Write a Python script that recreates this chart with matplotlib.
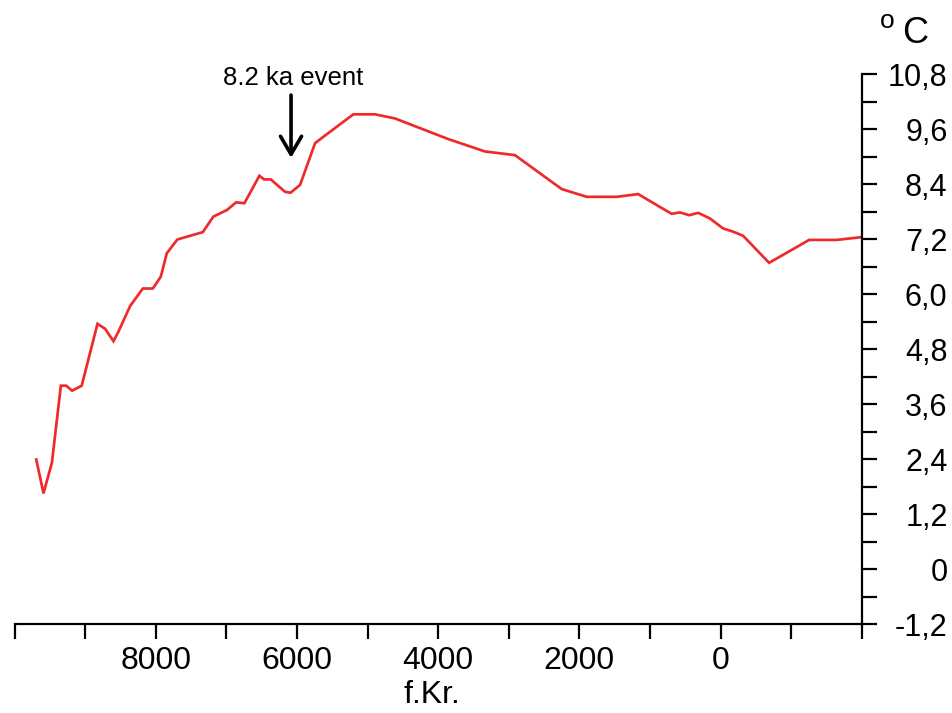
import matplotlib
matplotlib.use("Agg")
import matplotlib.pyplot as plt
from matplotlib.ticker import FixedLocator

plt.rcParams['font.family'] = ['Liberation Sans', 'DejaVu Sans']

# Years (positive = BC, negative = AD) and temperature (°C)
years = [9695, 9592, 9473, 9346, 9271, 9186, 9051, 8827, 8718, 8601, 8530,
         8364, 8184, 8043, 7930, 7845, 7695, 7335, 7185, 6995, 6863, 6746,
         6533, 6467, 6372, 6170, 6092, 5957, 5745, 5627, 5202, 4895, 4612,
         3857, 3338, 2913, 2251, 1897, 1473, 1167, 694, 576, 445, 317, 152,
         -37, -178, -320, -688, -1255, -1643, -1994]
temps = [2.39, 1.65, 2.32, 4.00, 4.00, 3.89, 4.00, 5.35, 5.24, 4.97, 5.18,
         5.74, 6.12, 6.12, 6.38, 6.89, 7.19, 7.35, 7.69, 7.83, 8.00, 7.98,
         8.58, 8.50, 8.50, 8.23, 8.21, 8.38, 9.29, 9.43, 9.92, 9.92, 9.83,
         9.38, 9.11, 9.03, 8.29, 8.12, 8.12, 8.18, 7.75, 7.78, 7.72, 7.77, 7.65,
         7.43, 7.36, 7.27, 6.68, 7.18, 7.18, 7.24]

x_ticks = [10000, 9000, 8000, 7000, 6000, 5000, 4000, 3000, 2000, 1000, 0, -1000, -2000]
x_labels = ['', '', '8000', '', '6000', '', '4000', '', '2000', '', '0', '', '']
y_ticks = [-1.2, -0.6, 0.0, 0.6, 1.2, 1.8, 2.4, 3.0, 3.6, 4.2, 4.8, 5.4, 6.0,
           6.6, 7.2, 7.8, 8.4, 9.0, 9.6, 10.2, 10.8]
y_labels = ['-1,2', '', '0', '', '1,2', '', '2,4', '', '3,6', '', '4,8', '',
            '6,0', '', '7,2', '', '8,4', '', '9,6', '', '10,8']

event_year = 6085
event_label = '8.2 ka event'

fig = plt.figure(figsize=(9.53, 7.13), dpi=100)
ax = fig.add_axes([0.01543, 0.12482, 0.88877, 0.77139])

ax.plot(years, temps, color='#EE2A2A', lw=1.95, solid_joinstyle='miter')

ax.set_xlim(10000, -2000)
ax.set_ylim(-1.2, 10.8)

for s in ['top', 'left']:
    ax.spines[s].set_visible(False)
for s in ['bottom', 'right']:
    ax.spines[s].set_linewidth(1.6)
    ax.spines[s].set_color('black')

ax.xaxis.set_major_locator(FixedLocator(x_ticks))
ax.set_xticklabels(x_labels)
ax.tick_params(axis='x', direction='out', length=10.5, width=1.6,
               labelsize=23, pad=5)

ax.yaxis.tick_right()
ax.yaxis.set_major_locator(FixedLocator(y_ticks))
ax.set_yticklabels(y_labels)
ax.tick_params(axis='y', direction='out', length=10.8, width=1.6,
               labelsize=22, pad=51)
for lab in ax.get_yticklabels():
    lab.set_horizontalalignment('right')

ax.set_xlabel('f.Kr.', fontsize=23, labelpad=3)
ax.xaxis.label.set_x(0.493)

# 8.2 ka event annotation
ax.annotate('', xy=(event_year, 8.97), xytext=(event_year, 10.34),
            arrowprops=dict(arrowstyle='->,head_length=0.65,head_width=0.38',
                            lw=2.6, color='black', shrinkA=0, shrinkB=0,
                            mutation_scale=20),
            annotation_clip=False)
ax.text(6049, 10.56, event_label, ha='center', va='baseline', fontsize=18.5,
        clip_on=False)

# unit label
fig.text(887 / 953, 1 - 28 / 713, 'o', fontsize=19, ha='center', va='baseline')
fig.text(915 / 953, 1 - 43 / 713, 'C', fontsize=26, ha='center', va='baseline')

fig.savefig('out.png', dpi=100)
